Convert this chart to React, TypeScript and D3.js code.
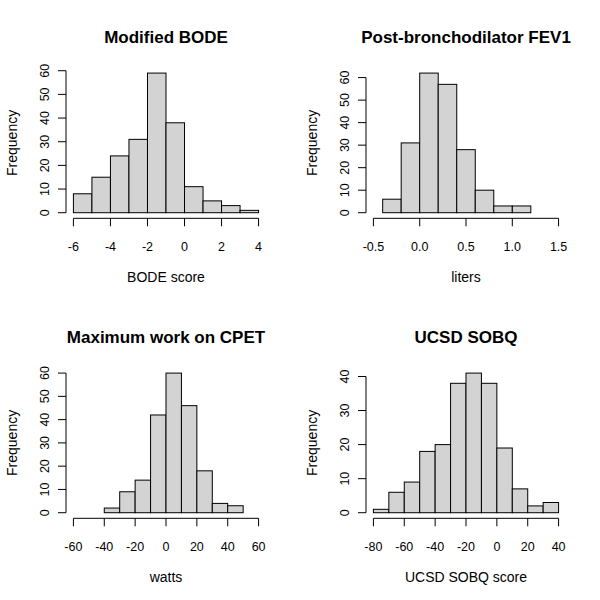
import React from "react";
import * as d3 from "d3";

const titles = ["Modified BODE", "Post-bronchodilator FEV1", "Maximum work on CPET", "UCSD SOBQ"];
const xLabels = ["BODE score", "liters", "watts", "UCSD SOBQ score"];

const bodeBreaks = [-6, -5, -4, -3, -2, -1, 0, 1, 2, 3, 4];
const bodeCounts = [8, 15, 24, 31, 59, 38, 11, 5, 3, 1];
const bodeXTicks = [-6, -4, -2, 0, 2, 4];
const bodeYTicks = [0, 10, 20, 30, 40, 50, 60];

const fevBreaks = [-0.4, -0.2, 0, 0.2, 0.4, 0.6, 0.8, 1.0, 1.2];
const fevCounts = [6, 31, 62, 57, 28, 10, 3, 3];
const fevXTicks = [-0.5, 0, 0.5, 1.0, 1.5];
const fevYTicks = [0, 10, 20, 30, 40, 50, 60];

const cpetBreaks = [-40, -30, -20, -10, 0, 10, 20, 30, 40, 50];
const cpetCounts = [2, 9, 14, 42, 60, 46, 18, 4, 3];
const cpetXTicks = [-60, -40, -20, 0, 20, 40, 60];
const cpetYTicks = [0, 10, 20, 30, 40, 50, 60];

const sobqBreaks = [-80, -70, -60, -50, -40, -30, -20, -10, 0, 10, 20, 30, 40];
const sobqCounts = [1, 6, 9, 18, 20, 38, 41, 38, 19, 7, 2, 3];
const sobqXTicks = [-80, -60, -40, -20, 0, 20, 40];
const sobqYTicks = [0, 10, 20, 30, 40];

const xTickFormats = [d3.format("d"), d3.format(".1f"), d3.format("d"), d3.format("d")];

const panels = [
  { breaks: bodeBreaks, counts: bodeCounts, xTicks: bodeXTicks, yTicks: bodeYTicks },
  { breaks: fevBreaks, counts: fevCounts, xTicks: fevXTicks, yTicks: fevYTicks },
  { breaks: cpetBreaks, counts: cpetCounts, xTicks: cpetXTicks, yTicks: cpetYTicks },
  { breaks: sobqBreaks, counts: sobqCounts, xTicks: sobqXTicks, yTicks: sobqYTicks },
];

const FONT = "'Liberation Sans', Arial, Helvetica, sans-serif";
const PL = 66, PR = 266, PT = 67.5, PB = 218.3;

function Panel({ idx }: { idx: number }) {
  const p = panels[idx];
  const ox = (idx % 2) * 300;
  const oy = Math.floor(idx / 2) * 300;
  const xlo = d3.min(p.xTicks)!;
  const xhi = d3.max(p.xTicks)!;
  const xr = xhi - xlo;
  const x = d3.scaleLinear().domain([xlo - 0.04 * xr, xhi + 0.04 * xr]).range([PL, PR]);
  const ymax = d3.max(p.counts)!;
  const y = d3.scaleLinear().domain([-0.04 * ymax, ymax * 1.04]).range([PB, PT]);
  const fmt = xTickFormats[idx];
  const yTop = p.yTicks[p.yTicks.length - 1];
  return (
    <g transform={`translate(${ox},${oy})`}>
      <text x={(PL + PR) / 2} y={42.5} textAnchor="middle" fontWeight="bold" fontSize={17} fontFamily={FONT}>
        {titles[idx]}
      </text>
      {p.counts.map((c, i) => (
        <rect
          key={i}
          x={x(p.breaks[i])}
          y={y(c)}
          width={x(p.breaks[i + 1]) - x(p.breaks[i])}
          height={y(0) - y(c)}
          fill="#D3D3D3"
          stroke="#000"
          strokeWidth={1}
        />
      ))}
      {/* x axis */}
      <line x1={x(xlo)} x2={x(xhi)} y1={PB} y2={PB} stroke="#000" />
      {p.xTicks.map((t) => (
        <g key={t}>
          <line x1={x(t)} x2={x(t)} y1={PB} y2={PB + 8} stroke="#000" />
          <text x={x(t)} y={251} textAnchor="middle" fontSize={12.5} fontFamily={FONT}>
            {t < 0 ? "-" + fmt(-t) : fmt(t)}
          </text>
        </g>
      ))}
      <text x={(PL + PR) / 2} y={282} textAnchor="middle" fontSize={14} fontFamily={FONT}>
        {xLabels[idx]}
      </text>
      {/* y axis */}
      <line x1={PL} x2={PL} y1={y(0)} y2={y(yTop)} stroke="#000" />
      {p.yTicks.map((t) => (
        <g key={t}>
          <line x1={PL - 8} x2={PL} y1={y(t)} y2={y(t)} stroke="#000" />
          <text
            transform={`translate(48.5,${y(t)}) rotate(-90)`}
            textAnchor="middle"
            fontSize={12.5}
            fontFamily={FONT}
          >
            {t}
          </text>
        </g>
      ))}
      <text
        transform={`translate(16.5,${(PT + PB) / 2}) rotate(-90)`}
        textAnchor="middle"
        fontSize={14}
        fontFamily={FONT}
      >
        Frequency
      </text>
    </g>
  );
}

export default function App() {
  return (
    <svg
      width={600}
      height={600}
      style={{ position: "absolute", left: 0, top: 0, background: "#fff" }}
    >
      <rect width={600} height={600} fill="#fff" />
      {panels.map((_, i) => (
        <Panel key={i} idx={i} />
      ))}
    </svg>
  );
}
